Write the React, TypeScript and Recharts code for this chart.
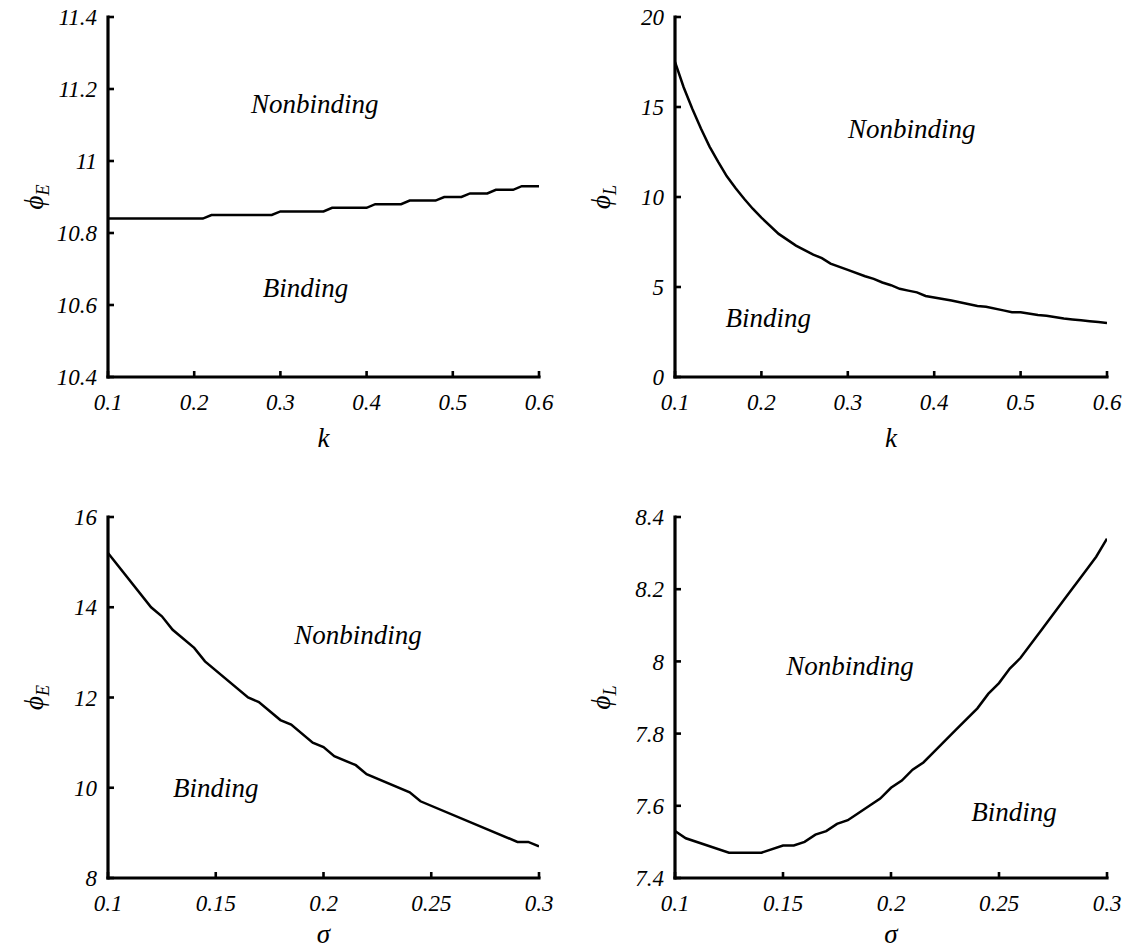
import React from "react";
import { LineChart, Line, XAxis, YAxis, ReferenceDot } from "recharts";

const SERIF = '"Liberation Serif", "Times New Roman", serif';

// top left: phi_E against k
const kSteps = [0.1, 0.21, 0.22, 0.29, 0.3, 0.35, 0.36, 0.4, 0.41, 0.44, 0.45, 0.48, 0.49, 0.51, 0.52, 0.54, 0.55, 0.57, 0.58, 0.6];
const phiEk = [10.84, 10.84, 10.85, 10.85, 10.86, 10.86, 10.87, 10.87, 10.88, 10.88, 10.89, 10.89, 10.9, 10.9, 10.91, 10.91, 10.92, 10.92, 10.93, 10.93];

// top right: phi_L against k
const kCurve = [0.1, 0.11, 0.12, 0.13, 0.14, 0.15, 0.16, 0.17, 0.18, 0.19, 0.2, 0.22, 0.24, 0.26, 0.27, 0.28, 0.3, 0.32, 0.33, 0.34, 0.35, 0.36, 0.37, 0.38, 0.39, 0.42, 0.45, 0.46, 0.48, 0.49, 0.5, 0.52, 0.53, 0.55, 0.56, 0.57, 0.58, 0.59, 0.6];
const phiLk = [17.5, 16.1, 14.9, 13.8, 12.8, 11.95, 11.15, 10.5, 9.9, 9.35, 8.85, 7.95, 7.3, 6.8, 6.6, 6.3, 5.95, 5.6, 5.45, 5.25, 5.1, 4.9, 4.8, 4.7, 4.5, 4.25, 3.95, 3.9, 3.7, 3.6, 3.6, 3.45, 3.4, 3.25, 3.2, 3.15, 3.1, 3.05, 3.0];

// bottom left: phi_E against sigma
const sigE = [0.1, 0.12, 0.125, 0.13, 0.14, 0.145, 0.165, 0.17, 0.18, 0.185, 0.195, 0.2, 0.205, 0.215, 0.22, 0.24, 0.245, 0.29, 0.295, 0.3];
const phiEs = [15.2, 14.0, 13.8, 13.5, 13.1, 12.8, 12.0, 11.9, 11.5, 11.4, 11.0, 10.9, 10.7, 10.5, 10.3, 9.9, 9.7, 8.8, 8.8, 8.7];

// bottom right: phi_L against sigma
const sigL = [0.1, 0.105, 0.125, 0.14, 0.15, 0.155, 0.16, 0.165, 0.17, 0.175, 0.18, 0.185, 0.19, 0.195, 0.2, 0.205, 0.21, 0.215, 0.22, 0.23, 0.24, 0.245, 0.25, 0.255, 0.26, 0.27, 0.28, 0.29, 0.295, 0.3];
const phiLs = [7.53, 7.51, 7.47, 7.47, 7.49, 7.49, 7.5, 7.52, 7.53, 7.55, 7.56, 7.58, 7.6, 7.62, 7.65, 7.67, 7.7, 7.72, 7.75, 7.81, 7.87, 7.91, 7.94, 7.98, 8.01, 8.09, 8.17, 8.25, 8.29, 8.34];

const kTicks = [0.1, 0.2, 0.3, 0.4, 0.5, 0.6];
const sigTicks = [0.1, 0.15, 0.2, 0.25, 0.3];
const phiEkTicks = [10.4, 10.6, 10.8, 11, 11.2, 11.4];
const phiLkTicks = [0, 5, 10, 15, 20];
const phiEsTicks = [8, 10, 12, 14, 16];
const phiLsTicks = [7.4, 7.6, 7.8, 8, 8.2, 8.4];

// region labels: [x, y, text]
const notesEk: [number, number, string][] = [[0.34, 11.16, "Nonbinding"], [0.329, 10.65, "Binding"]];
const notesLk: [number, number, string][] = [[0.374, 13.8, "Nonbinding"], [0.208, 3.3, "Binding"]];
const notesEs: [number, number, string][] = [[0.216, 13.4, "Nonbinding"], [0.15, 10.0, "Binding"]];
const notesLs: [number, number, string][] = [[0.181, 7.99, "Nonbinding"], [0.257, 7.585, "Binding"]];

const TICK = 6;
const axisLine = { stroke: "#000", strokeWidth: 3.2, strokeLinecap: "square" as const };
const tickLine = { stroke: "#000", strokeWidth: 2.6 };
const tickFont = { fill: "#000", fontSize: 23, fontFamily: SERIF, fontStyle: "italic" };

const YLabel = (props: any) => {
  const { viewBox, sym, sub } = props;
  const bx = viewBox.x + viewBox.width - 65;
  const cy = viewBox.y + viewBox.height / 2;
  return (
    <text
      x={bx}
      y={cy}
      transform={`rotate(-90, ${bx}, ${cy})`}
      textAnchor="middle"
      fill="#000"
      fontFamily={SERIF}
      fontStyle="italic"
      fontSize={27}
    >
      {sym}
      <tspan fontSize={18} dy={6}>{sub}</tspan>
    </text>
  );
};

const XLabel = (props: any) => {
  const { viewBox, sym, gap } = props;
  return (
    <text
      x={viewBox.x + viewBox.width / 2}
      y={viewBox.y + gap}
      textAnchor="middle"
      fill="#000"
      fontFamily={SERIF}
      fontStyle="italic"
      fontSize={27}
    >
      {sym}
    </text>
  );
};

type PanelProps = {
  xs: number[];
  ys: number[];
  xDomain: [number, number];
  yDomain: [number, number];
  xTicks: number[];
  yTicks: number[];
  xName: string;
  yName: string;
  ySub: string;
  notes: [number, number, string][];
  left: number;
  top: number;
  width: number;
  height: number;
  marginTop: number;
  marginRight: number;
  yAxisWidth: number;
  xAxisHeight: number;
  xLabelGap: number;
};

const Panel = (p: PanelProps) => {
  const data = p.xs.map((x, i) => ({ x, y: p.ys[i] }));
  return (
    <div style={{ position: "absolute", left: p.left, top: p.top }}>
      <LineChart
        width={p.width}
        height={p.height}
        data={data}
        margin={{ top: p.marginTop, right: p.marginRight, left: 0, bottom: 0 }}
      >
        <XAxis
          xAxisId="b"
          dataKey="x"
          type="number"
          domain={p.xDomain}
          ticks={p.xTicks}
          interval={0}
          allowDataOverflow
          height={p.xAxisHeight}
          tickSize={-TICK}
          tickMargin={TICK + 17}
          axisLine={axisLine}
          tickLine={tickLine}
          tick={tickFont}
          label={<XLabel sym={p.xName} gap={p.xLabelGap} />}
        />
        <XAxis
          xAxisId="t"
          orientation="top"
          dataKey="x"
          type="number"
          domain={p.xDomain}
          ticks={p.xTicks}
          interval={0}
          allowDataOverflow
          height={0}
          tickSize={-TICK}
          axisLine={axisLine}
          tickLine={tickLine}
          tick={false}
        />
        <YAxis
          yAxisId="l"
          type="number"
          domain={p.yDomain}
          ticks={p.yTicks}
          interval={0}
          allowDataOverflow
          width={p.yAxisWidth}
          tickSize={-TICK}
          tickMargin={TICK + 11}
          axisLine={axisLine}
          tickLine={tickLine}
          tick={tickFont}
          label={<YLabel sym={p.yName} sub={p.ySub} />}
        />
        <YAxis
          yAxisId="r"
          orientation="right"
          type="number"
          domain={p.yDomain}
          ticks={p.yTicks}
          interval={0}
          allowDataOverflow
          width={0}
          tickSize={-TICK}
          axisLine={axisLine}
          tickLine={tickLine}
          tick={false}
        />
        <Line
          xAxisId="b"
          yAxisId="l"
          type="linear"
          dataKey="y"
          stroke="#000"
          strokeWidth={2.5}
          dot={false}
          isAnimationActive={false}
        />
        {p.notes.map(([x, y, text]) => (
          <ReferenceDot
            key={text}
            xAxisId="b"
            yAxisId="l"
            x={x}
            y={y}
            r={0}
            fill="none"
            stroke="none"
            label={{
              value: text,
              position: "center",
              fill: "#000",
              fontSize: 27,
              fontFamily: SERIF,
              fontStyle: "italic",
            }}
          />
        ))}
      </LineChart>
    </div>
  );
};

export default function App() {
  return (
    <div
      style={{
        position: "absolute",
        left: 0,
        top: 0,
        width: 1126,
        height: 951,
        background: "#fff",
        overflow: "hidden",
      }}
    >
      <Panel
        xs={kSteps}
        ys={phiEk}
        xDomain={[0.1, 0.6]}
        yDomain={[10.4, 11.4]}
        xTicks={kTicks}
        yTicks={phiEkTicks}
        xName="k"
        yName="ϕ"
        ySub="E"
        notes={notesEk}
        left={0}
        top={0}
        width={560}
        height={470}
        marginTop={17}
        marginRight={21}
        yAxisWidth={108}
        xAxisHeight={93}
        xLabelGap={70}
      />
      <Panel
        xs={kCurve}
        ys={phiLk}
        xDomain={[0.1, 0.6]}
        yDomain={[0, 20]}
        xTicks={kTicks}
        yTicks={phiLkTicks}
        xName="k"
        yName="ϕ"
        ySub="L"
        notes={notesLk}
        left={560}
        top={0}
        width={566}
        height={470}
        marginTop={17}
        marginRight={19}
        yAxisWidth={115}
        xAxisHeight={93}
        xLabelGap={70}
      />
      <Panel
        xs={sigE}
        ys={phiEs}
        xDomain={[0.1, 0.3]}
        yDomain={[8, 16]}
        xTicks={sigTicks}
        yTicks={phiEsTicks}
        xName="σ"
        yName="ϕ"
        ySub="E"
        notes={notesEs}
        left={0}
        top={470}
        width={560}
        height={481}
        marginTop={47}
        marginRight={21}
        yAxisWidth={108}
        xAxisHeight={73}
        xLabelGap={65}
      />
      <Panel
        xs={sigL}
        ys={phiLs}
        xDomain={[0.1, 0.3]}
        yDomain={[7.4, 8.4]}
        xTicks={sigTicks}
        yTicks={phiLsTicks}
        xName="σ"
        yName="ϕ"
        ySub="L"
        notes={notesLs}
        left={560}
        top={470}
        width={566}
        height={481}
        marginTop={47}
        marginRight={19}
        yAxisWidth={115}
        xAxisHeight={73}
        xLabelGap={65}
      />
    </div>
  );
}
